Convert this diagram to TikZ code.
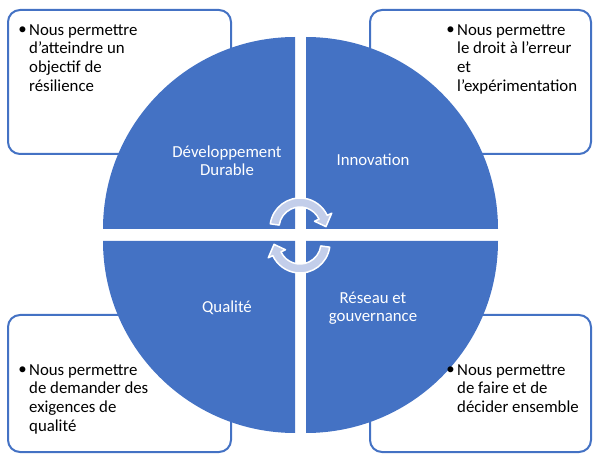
\documentclass[tikz,border=0pt]{standalone}
\usepackage{fontspec}
\setmainfont{Carlito}

\definecolor{quadblue}{HTML}{4472C4}
\definecolor{arrowfill}{HTML}{C3CEEA}

\tikzset{
    infobox/.style={draw=quadblue, line width=2pt, fill=white, rounded corners=12pt, inner sep=0pt},
    boxtext/.style={anchor=north west, align=left, inner sep=0pt, font=\fontsize{16.8}{18.7}\selectfont},
    bulletmark/.style={anchor=base, inner sep=0pt, font=\fontsize{16.8}{18.7}\selectfont},
    quadrant/.style={fill=quadblue},
    quadlabel/.style={text=white, align=center, inner sep=0pt, font=\fontsize{16.8}{18.7}\selectfont},
    cyclearrow/.style={fill=arrowfill, draw=white, line width=1.5pt, line join=round}
}

\begin{document}
\begin{tikzpicture}[x=1pt, y=1pt]
    \useasboundingbox (0, 0) rectangle (595, 453);

    % boxes
    \node[infobox, minimum width=223pt, minimum height=144pt] (tlbox) at (119.5, 371) {};
    \node[infobox, minimum width=221pt, minimum height=144pt] (trbox) at (480.5, 371) {};
    \node[infobox, minimum width=223pt, minimum height=137pt] (blbox) at (119.5, 69.5) {};
    \node[infobox, minimum width=221pt, minimum height=137pt] (brbox) at (480.5, 69.5) {};

    % quadrants
    \fill[quadrant] (295, 224) -- (295, 416) arc[start angle=90, end angle=180, radius=192] -- cycle;
    \fill[quadrant] (306, 224) -- (498, 224) arc[start angle=0, end angle=90, radius=192] -- cycle;
    \fill[quadrant] (295, 212) -- (103, 212) arc[start angle=180, end angle=270, radius=192] -- cycle;
    \fill[quadrant] (306, 212) -- (306, 20) arc[start angle=270, end angle=360, radius=192] -- cycle;

    % cycle arrows
    \begin{scope}[shift={(300, 225)}]
        \draw[cyclearrow] (172:30) arc[start angle=172, end angle=25, radius=30] -- (25:35) -- (3:26) -- (25:16) -- (25:21) arc[start angle=25, end angle=172, radius=21] -- cycle;
    \end{scope}
    \begin{scope}[shift={(300, 210)}, rotate=180]
        \draw[cyclearrow] (172:30) arc[start angle=172, end angle=25, radius=30] -- (25:35) -- (3:26) -- (25:16) -- (25:21) arc[start angle=25, end angle=172, radius=21] -- cycle;
    \end{scope}

    % quadrant labels
    \node[quadlabel, anchor=north] (ddlabel) at (227, 307.8) {Développement\\Durable};
    \node[quadlabel, anchor=base] (innolabel) at (373, 287) {Innovation};
    \node[quadlabel, anchor=base] (qualabel) at (227, 140) {Qualité};
    \node[quadlabel, anchor=north] (reslabel) at (373, 161.5) {Réseau et\\gouvernance};

    % box texts
    \node[bulletmark] (tlbullet) at (22.5, 418) {•};
    \node[boxtext] (tltext) at (29, 428.7) {Nous permettre\\d’atteindre un\\objectif de\\résilience};

    \node[bulletmark] (trbullet) at (450.5, 418) {•};
    \node[boxtext] (trtext) at (457, 428.7) {Nous permettre\\le droit à l’erreur\\et\\l’expérimentation};

    \node[bulletmark] (blbullet) at (22.5, 78) {•};
    \node[boxtext] (bltext) at (29, 88.7) {Nous permettre\\de demander des\\exigences de\\qualité};

    \node[bulletmark] (brbullet) at (450.5, 78) {•};
    \node[boxtext] (brtext) at (457, 88.7) {Nous permettre\\de faire et de\\décider ensemble};
\end{tikzpicture}
\end{document}
